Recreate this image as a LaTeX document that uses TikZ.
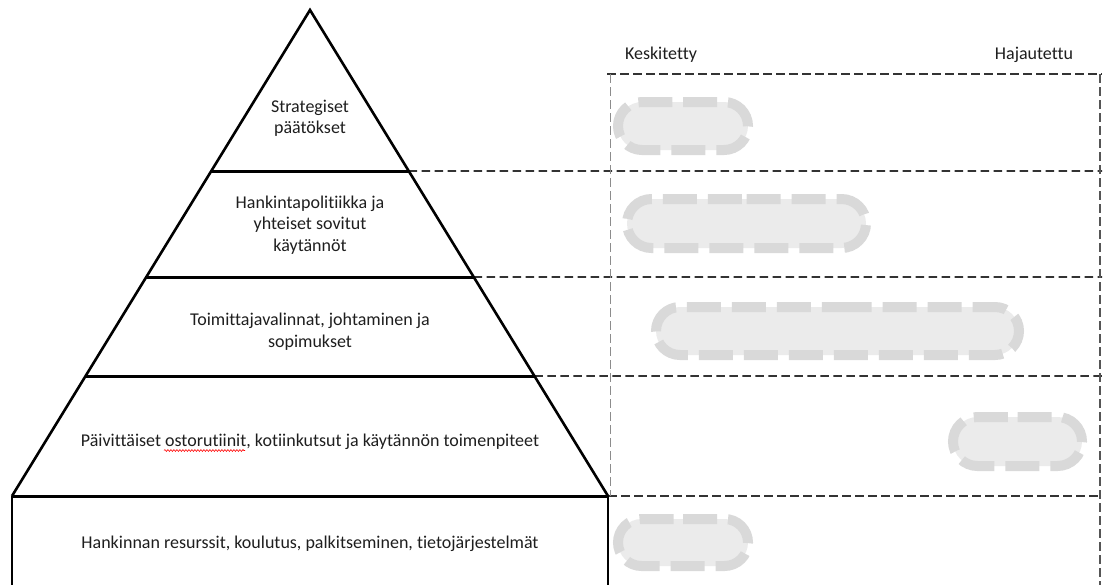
\documentclass[tikz,border=0pt]{standalone}
\usepackage{fontspec}
\setmainfont{Carlito}[Ligatures={NoCommon,NoContextual}]
\usetikzlibrary{shapes.misc,decorations.pathmorphing,calc}
\definecolor{txt}{HTML}{1E1E1E}
\definecolor{capfill}{HTML}{EBEBEB}
\definecolor{capline}{HTML}{D9D9D9}
\definecolor{rowdash}{HTML}{333333}
\definecolor{leftdash}{HTML}{8C8C8C}
\definecolor{rightdash}{HTML}{555555}
\begin{document}
\begin{tikzpicture}[x=1pt,y=-1pt,
  lbl/.style={font=\fontsize{18}{21.5}\selectfont, text=txt, inner sep=0pt, align=center},
  edgeline/.style={line width=2.6pt, black},
  levelline/.style={line width=3pt, black},
  rowline/.style={rowdash, line width=1.7pt, dash pattern=on 8.5pt off 4.5pt},
  leftline/.style={leftdash, line width=0.9pt, dash pattern=on 9pt off 4pt},
  rightline/.style={rightdash, line width=1.5pt, dash pattern=on 9pt off 4pt},
  capsule/.style={rounded rectangle, draw=capline, fill=capfill, line width=10pt,
    dash pattern=on 34pt off 11pt, inner sep=0pt},
  spell/.style={red, line width=0.6pt, decorate,
    decoration={snake, amplitude=0.9pt, segment length=3pt}}
]
\useasboundingbox (0,0) rectangle (1105,584);

% pyramid corners
\coordinate (apex) at (310,10);
\coordinate (bl) at (12,496);
\coordinate (br) at (608,496);
\coordinate (l1) at ($(apex)!0.3313!(bl)$);
\coordinate (r1) at ($(apex)!0.3313!(br)$);
\coordinate (l2) at ($(apex)!0.5494!(bl)$);
\coordinate (r2) at ($(apex)!0.5494!(br)$);
\coordinate (l3) at ($(apex)!0.7531!(bl)$);
\coordinate (r3) at ($(apex)!0.7531!(br)$);

% right-hand grid
\coordinate (gtl) at (607,74);
\coordinate (gtr) at (1102,74);
\draw[rowline] (gtl) -- (gtr);
\draw[rowline] (r1) -- (1102,171);
\draw[rowline] (r2) -- (1102,277);
\draw[rowline] (r3) -- (1102,376);
\draw[rowline] (br) -- (1102,496);
\draw[leftline] (610,74) -- (610,496);
\draw[rightline] (1100,74) -- (1100,590);

% capsules
\node[capsule, minimum width=130pt, minimum height=48pt] (c1) at (683,126) {};
\node[capsule, minimum width=239pt, minimum height=49pt] (c2) at (746.5,223.5) {};
\node[capsule, minimum width=363pt, minimum height=48pt] (c3) at (837.5,331) {};
\node[capsule, minimum width=129pt, minimum height=49pt] (c4) at (1017.5,441.5) {};
\node[capsule, minimum width=130pt, minimum height=47pt] (c5) at (683,542.5) {};

% pyramid
\draw[edgeline, line join=miter] (bl) -- (apex) -- (br);
\draw[levelline] (l1) -- (r1);
\draw[levelline] (l2) -- (r2);
\draw[levelline] (l3) -- (r3);
\draw[levelline] (bl) -- (br);
\draw[edgeline] (12,590) -- (bl);
\draw[edgeline] (608,590) -- (br);

% labels
\node[lbl, anchor=base] (kesk) at (661,59) {Keskitetty};
\node[lbl, anchor=base] (haja) at (1034,59) {Hajautettu};
\node[lbl] (t1) at (310,118.4) {Strategiset\\päätökset};
\node[lbl] (t2) at (310,225) {Hankintapolitiikka ja\\yhteiset sovitut\\käytännöt};
\node[lbl] (t3) at (310,331.5) {Toimittajavalinnat, johtaminen ja\\sopimukset};
\node[lbl, anchor=base] (t4) at (310,446) {Päivittäiset ostorutiinit, kotiinkutsut ja käytännön toimenpiteet};
\node[lbl, anchor=base] (t5) at (310,548) {Hankinnan resurssit, koulutus, palkitseminen, tietojärjestelmät};
\draw[spell] (164,450.5) -- (245,450.5);
\end{tikzpicture}
\end{document}
